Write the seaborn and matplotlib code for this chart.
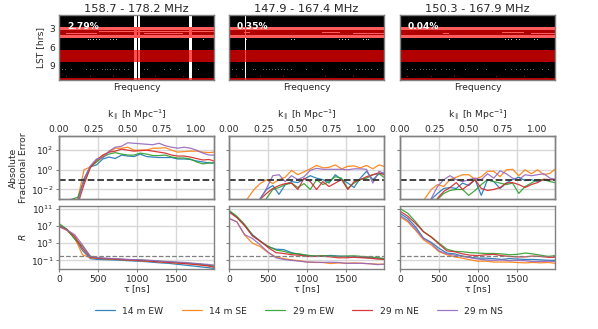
import numpy as np
import pandas as pd
import matplotlib
matplotlib.use("Agg")
import matplotlib.pyplot as plt
from matplotlib.colors import ListedColormap
import seaborn as sns

# values
baselines = ["14 m EW", "14 m SE", "29 m EW", "29 m NE", "29 m NS"]
titles = ["158.7 - 178.2 MHz", "147.9 - 167.4 MHz", "150.3 - 167.9 MHz"]
flag_pct = ["2.79%", "0.35%", "0.04%"]

# waterfall: bands in LST hours, value = colour index
lst_bands = [(0.7, 0.92, 1), (2.6, 3.2, 2), (3.2, 3.95, 1), (3.95, 4.5, 2), (6.4, 8.45, 1), (11.0, 11.4, 1)]
flag_ranges = [[(0.49, 0.505), (0.512, 0.527), (0.842, 0.861)], [(0.108, 0.115)], []]
light_stripes = [
    [(3.45, 0.26, 1.0), (3.7, 0.05, 0.25), (3.75, 0.55, 0.8)],
    [(3.5, 0.6, 0.72), (3.75, 0.8, 1.0), (3.65, 0.1, 0.14)],
    [(3.75, 0.85, 1.0), (3.75, 0.28, 0.32), (3.5, 0.66, 0.8)],
]
white_specks = [
    [(4.8, c) for c in [0.19, 0.2, 0.22, 0.24, 0.26, 0.33, 0.35, 0.37, 0.93]],
    [(4.8, c) for c in [0.11, 0.4, 0.42, 0.71, 0.73, 0.75, 0.77, 0.87, 0.89, 0.9]],
    [(4.8, c) for c in [0.32, 0.68, 0.7, 0.72, 0.75, 0.77, 0.87, 0.89]],
]
grey_specks = [
    [0.02, 0.04, 0.08, 0.18, 0.2, 0.22, 0.25, 0.28, 0.3, 0.31, 0.33, 0.35, 0.37, 0.39, 0.42, 0.45, 0.55, 0.57, 0.68, 0.72, 0.78, 0.9],
    [0.02, 0.05, 0.09, 0.16, 0.17, 0.22, 0.24, 0.26, 0.28, 0.3, 0.32, 0.34, 0.36, 0.38, 0.4, 0.5, 0.6, 0.73, 0.75, 0.78, 0.82, 0.84, 0.86, 0.88, 0.9, 0.92, 0.96],
    [0.05, 0.08, 0.1, 0.13, 0.15, 0.17, 0.19, 0.21, 0.23, 0.27, 0.3, 0.32, 0.35, 0.42, 0.5, 0.56, 0.68, 0.72, 0.75, 0.78, 0.8, 0.82, 0.84, 0.86, 0.92, 0.96],
]
red_specks = [0.05, 0.2, 0.35, 0.62, 0.8]

# log10 of absolute fractional error, below -3 is off the axis
tau_err = [0, 80, 160, 240, 320, 400, 480, 560, 640, 720, 800, 880, 960, 1040, 1120, 1200, 1280, 1360, 1440, 1520, 1600, 1680, 1760, 1840, 1920, 1980]

err1_blue = [-4, -4, -3.5, -3.1, -0.9, 0.3, 0.5, 1.1, 1.3, 1.15, 1.5, 1.4, 1.35, 1.6, 1.35, 1.3, 1.25, 1.25, 1.25, 1.1, 1.1, 1.05, 0.9, 0.8, 0.7, 0.7]
err1_orange = [-4, -4, -4, -3.0, 0.0, 0.3, 0.8, 1.4, 1.8, 2.2, 2.2, 2.3, 2.0, 2.0, 2.0, 2.2, 2.2, 2.25, 2.0, 1.8, 1.85, 1.9, 1.9, 1.8, 1.75, 1.8]
err1_green = [-4, -4, -3.0, -2.8, -1.2, 0.3, 0.8, 1.3, 1.6, 1.75, 1.6, 1.5, 1.5, 1.7, 1.6, 1.45, 1.45, 1.5, 1.3, 1.2, 1.2, 1.1, 0.8, 0.6, 0.7, 0.7]
err1_red = [-4, -4, -4, -3.5, -1.5, 0.2, 1.0, 1.5, 1.8, 1.9, 2.1, 2.0, 1.9, 1.95, 2.0, 1.9, 1.8, 1.7, 1.5, 1.4, 1.4, 1.3, 1.15, 1.0, 1.05, 0.9]
err1_purple = [-4, -4, -4, -3.3, -1.0, 0.4, 1.1, 1.2, 1.9, 2.3, 2.4, 2.75, 2.7, 2.65, 2.6, 2.55, 2.7, 2.45, 2.3, 2.2, 2.3, 2.2, 2.0, 1.7, 1.5, 1.5]

err2_blue = [-4, -4, -4, -4, -4, -2.9, -2.0, -1.6, -2.5, -1.5, -1.2, -1.3, -0.95, -0.6, -0.85, -1.0, -1.35, -0.5, -1.0, -1.35, -1.8, -0.85, -0.15, -1.0, -0.4, -0.35]
err2_orange = [-4, -4, -4, -2.9, -2.0, -1.4, -1.0, -1.4, -1.0, -0.75, -0.05, -0.5, -0.2, 0.1, 0.45, 0.2, 0.25, 0.5, 0.1, 0.35, 0.4, 0.2, 0.45, 0.1, 0.5, 0.35]
err2_green = [-4, -4, -4, -4, -4, -4, -2.9, -2.0, -1.8, -1.5, -1.35, -1.8, -1.4, -2.0, -1.0, -1.5, -1.2, -0.7, -0.85, -1.9, -1.35, -1.0, -0.85, -0.5, -0.4, -0.75]
err2_red = [-4, -4, -4, -4, -4, -3.0, -2.4, -1.9, -1.6, -1.4, -1.35, -2.0, -0.85, -1.2, -2.0, -1.2, -1.7, -1.35, -1.0, -2.0, -1.2, -1.0, -0.7, -0.5, -0.3, -0.5]
err2_purple = [-4, -4, -4, -4, -4, -3.0, -1.9, -0.6, -0.5, -1.2, -0.6, -1.0, -0.7, -0.05, 0.15, 0.05, 0.05, 0.05, 0.05, 0.0, 0.1, 0.1, 0.05, -1.35, -0.15, -0.35]

err3_blue = [-4, -4, -4, -4, -4, -3.0, -2.4, -1.9, -1.8, -1.9, -1.35, -1.6, -1.0, -2.6, -1.0, -1.2, -1.9, -1.35, -1.0, -0.75, -1.1, -1.0, -1.2, -1.0, -1.0, -1.0]
err3_orange = [-4, -4, -4, -4, -2.9, -2.0, -1.5, -1.7, -1.0, -0.75, -0.5, -0.5, -0.95, -0.7, -0.15, -0.15, -0.7, 0.0, 0.05, -0.6, 0.0, -0.4, 0.0, -0.5, -0.35, 0.05]
err3_green = [-4, -4, -4, -4, -4, -4, -3.0, -2.4, -2.1, -2.0, -2.0, -2.6, -2.1, -1.5, -1.0, -1.2, -1.35, -1.5, -1.35, -2.4, -1.7, -1.35, -1.0, -1.0, -1.2, -1.3]
err3_red = [-4, -4, -4, -4, -4, -4, -2.9, -2.2, -1.8, -1.3, -2.0, -1.5, -1.0, -1.9, -2.1, -2.0, -1.8, -1.35, -1.3, -1.5, -1.8, -1.5, -1.3, -0.95, -1.0, -1.0]
err3_purple = [-4, -4, -4, -4, -4, -2.9, -1.7, -1.0, -0.6, -1.0, -1.2, -1.0, -0.85, -1.0, -0.4, -0.85, -0.1, -0.4, -0.85, -1.0, -0.5, -0.6, -0.5, -0.4, -0.85, -0.95]

# log10 of R
tau_r = [0, 100, 200, 300, 400, 500, 600, 700, 800, 900, 1000, 1100, 1200, 1300, 1400, 1500, 1600, 1700, 1800, 1900, 1980]

r1_blue = [7.2, 6.2, 4.1, 1.3, -0.6, -0.8, -0.85, -0.9, -1.0, -1.1, -1.2, -1.3, -1.45, -1.6, -1.7, -1.9, -2.1, -2.3, -2.5, -2.7, -2.9]
r1_orange = [6.9, 6.0, 4.3, 0.3, -0.4, -0.55, -0.65, -0.75, -0.85, -0.95, -1.05, -1.15, -1.25, -1.4, -1.5, -1.6, -1.7, -1.85, -2.0, -2.2, -2.4]
r1_green = [7.6, 6.3, 4.0, 2.3, 0.0, -0.5, -0.6, -0.7, -0.8, -0.85, -0.9, -1.0, -1.1, -1.25, -1.35, -1.5, -1.6, -1.75, -1.9, -2.1, -2.3]
r1_red = [7.1, 6.2, 4.6, 1.8, -0.3, -0.5, -0.6, -0.7, -0.8, -0.9, -1.0, -1.1, -1.25, -1.35, -1.5, -1.6, -1.75, -1.9, -2.1, -2.3, -2.6]
r1_purple = [6.9, 6.1, 5.0, 2.6, -0.1, -0.4, -0.5, -0.6, -0.7, -0.8, -0.85, -0.95, -1.05, -1.2, -1.3, -1.4, -1.5, -1.65, -1.8, -1.95, -2.1]

r2_blue = [10.5, 9.1, 7.2, 5.0, 3.5, 2.2, 1.6, 1.5, 0.8, 0.4, 0.1, 0.0, 0.0, 0.15, 0.0, -0.1, -0.1, -0.3, -0.4, -0.5, -0.6]
r2_orange = [8.8, 8.0, 4.9, 3.0, 2.2, 0.8, -0.2, -0.6, -0.9, -1.1, -1.4, -1.5, -1.5, -1.75, -1.6, -1.7, -1.6, -1.7, -1.8, -1.9, -1.9]
r2_green = [10.7, 9.3, 7.4, 4.8, 3.4, 2.3, 1.4, 1.1, 0.6, 0.5, 0.2, 0.0, 0.1, 0.0, -0.1, 0.0, 0.05, -0.1, -0.2, -0.4, -0.6]
r2_red = [10.3, 9.0, 7.1, 4.7, 3.5, 2.0, 0.8, 0.6, 0.3, 0.2, -0.1, -0.1, -0.05, -0.2, -0.4, -0.4, -0.3, -0.4, -0.5, -0.7, -0.8]
r2_purple = [8.8, 8.0, 5.0, 4.1, 2.6, 0.9, -0.4, -0.8, -1.0, -1.2, -1.4, -1.45, -1.5, -1.45, -1.5, -1.7, -1.7, -1.7, -1.8, -2.0, -1.9]

r3_blue = [10.0, 8.8, 6.8, 4.2, 3.2, 1.8, 0.7, 0.5, 0.0, -0.3, -0.5, -0.5, -0.6, -0.8, -0.6, -0.7, -0.8, -0.8, -0.9, -1.0, -1.0]
r3_orange = [9.2, 8.0, 6.0, 3.8, 2.6, 1.0, 0.3, -0.2, -0.5, -0.9, -1.2, -1.2, -1.4, -1.4, -1.4, -1.5, -1.6, -1.5, -1.6, -1.5, -1.7]
r3_green = [11.1, 10.0, 8.0, 5.7, 4.5, 3.0, 1.6, 1.1, 1.0, 0.8, 0.7, 0.6, 0.6, 0.5, 0.3, 0.4, 0.7, 0.5, 0.2, -0.1, 0.1]
r3_red = [10.5, 9.3, 7.6, 5.7, 4.4, 2.8, 1.2, 1.0, 0.5, 0.2, 0.1, 0.3, 0.4, 0.1, -0.1, -0.2, -0.2, 0.0, -0.1, -0.3, -0.3]
r3_purple = [9.5, 8.3, 6.3, 4.1, 3.0, 1.2, 0.5, 0.2, -0.1, -0.4, -0.7, -0.9, -1.0, -0.9, -1.1, -1.0, -1.1, -1.3, -1.3, -1.2, -1.3]

err_panels = [
    [err1_blue, err1_orange, err1_green, err1_red, err1_purple],
    [err2_blue, err2_orange, err2_green, err2_red, err2_purple],
    [err3_blue, err3_orange, err3_green, err3_red, err3_purple],
]
r_panels = [
    [r1_blue, r1_orange, r1_green, r1_red, r1_purple],
    [r2_blue, r2_orange, r2_green, r2_red, r2_purple],
    [r3_blue, r3_orange, r3_green, r3_red, r3_purple],
]

W, H = 598, 329
LST_MIN, LST_MAX = 0.7, 11.4
N_ROWS, N_CHAN = 65, 155
FS = 6.6

sns.set_style("white")
plt.rcParams.update({"font.family": "DejaVu Sans", "font.size": FS, "axes.edgecolor": "#808080",
                     "axes.linewidth": 1.0, "xtick.bottom": True, "ytick.left": True,
                     "xtick.major.size": 2.5, "ytick.major.size": 2.5,
                     "xtick.color": "#262626", "ytick.color": "#262626", "mathtext.default": "regular"})
palette = sns.color_palette("tab10", 5)
wf_cmap = ListedColormap(["#000000", "#b00000", "#ff5c5c", "#ffffff", "#ff5050", "#666666", "#b8b8b8"])


def px_axes(fig, x0, y0, x1, y1):
    return fig.add_axes([x0 / W, 1 - y1 / H, (x1 - x0) / W, (y1 - y0) / H])


def lst_row(lst):
    return (lst - LST_MIN) / (LST_MAX - LST_MIN) * N_ROWS


def build_waterfall(i):
    m = np.zeros((N_ROWS, N_CHAN))
    for start, end, val in lst_bands:
        m[int(round(lst_row(start))):int(round(lst_row(end))), :] = val
    for lst, c0, c1 in light_stripes[i]:
        m[int(lst_row(lst)), int(c0 * N_CHAN):int(c1 * N_CHAN)] = 2
    for lst, c in white_specks[i]:
        m[int(lst_row(lst)), int(c * N_CHAN)] = 6
    for c in grey_specks[i]:
        m[int(lst_row(9.7)), int(c * N_CHAN)] = 5
    for c in red_specks:
        m[int(lst_row(10.9)), int(c * N_CHAN)] = 1
    for c0, c1 in flag_ranges[i]:
        a, b = int(c0 * N_CHAN), max(int(c1 * N_CHAN), int(c0 * N_CHAN) + 1)
        col = m[:, a:b]
        col[(col == 0) | (col == 5) | (col == 6)] = 3
        col[(col == 1) | (col == 2)] = 4
    return m


def style_panel(ax, yticks, show_labels):
    ax.set_xlim(0, 1983)
    ax.set_yscale("log")
    ax.set_yticks(yticks)
    ax.minorticks_off()
    ax.set_xticks([0, 500, 1000, 1500])
    ax.grid(True, color="#d8d8d8", lw=1.0)
    ax.set_axisbelow(True)
    ax.tick_params(labelsize=FS, pad=1.5, length=2.5, color="#808080")
    if not show_labels:
        ax.set_yticklabels([])
    for s in ax.spines.values():
        s.set_visible(True)


fig = plt.figure(figsize=(W / 100, H / 100), dpi=100)
lefts = [59, 229, 400]

for i, x0 in enumerate(lefts):
    x1 = x0 + 155

    # waterfall
    ax = px_axes(fig, x0, 15, x1, 80)
    sns.heatmap(build_waterfall(i), ax=ax, cmap=wf_cmap, vmin=0, vmax=6, cbar=False,
                xticklabels=False, yticklabels=False)
    for s in ax.spines.values():
        s.set_visible(True)
        s.set_color("#808080")
    ax.set_title(titles[i], fontsize=8.2, pad=2.5)
    ax.set_xlabel("Frequency", fontsize=FS, labelpad=2)
    ax.set_xticks([])
    ax.text(8 / 155, 0.83, flag_pct[i], transform=ax.transAxes, color="white",
            fontsize=6.6, fontweight="bold", va="center")
    if i == 0:
        ax.set_yticks([lst_row(v) for v in [3, 6, 9]])
        ax.set_yticklabels(["3", "6", "9"], rotation=0, fontsize=FS)
        ax.tick_params(axis="y", length=0, pad=3)
        ax.set_ylabel("LST [hrs]", fontsize=FS, labelpad=3)

    # fractional error
    ax = px_axes(fig, x0, 136, x1, 199.3)
    for j, name in enumerate(baselines):
        sns.lineplot(x=tau_err, y=np.power(10.0, err_panels[i][j]), ax=ax, color=palette[j],
                     lw=0.9, alpha=0.9, errorbar=None, label=name, legend=False)
    ax.axhline(0.1, color="#333333", ls="--", lw=1.3)
    ax.set_ylim(1e-3, 10 ** 3.44)
    style_panel(ax, [1e-2, 1e0, 1e2], i == 0)
    ax.set_xticklabels([])
    ax.tick_params(axis="x", length=0)
    if i == 0:
        ax.set_ylabel("Absolute\nFractional Error", fontsize=FS, labelpad=2)
        handles, labels = ax.get_legend_handles_labels()
    top = ax.twiny()
    top.set_xlim(0, 1.13)
    top.set_xticks([0, 0.25, 0.5, 0.75, 1.0])
    top.set_xticklabels(["0.00", "0.25", "0.50", "0.75", "1.00"])
    top.tick_params(labelsize=FS, pad=1.5, length=0)
    top.grid(False)
    top.set_xlabel(r"$k_\parallel$ [$h$ Mpc$^{-1}$]", fontsize=FS, labelpad=5)

    # R
    ax = px_axes(fig, x0, 206, x1, 269)
    for j, name in enumerate(baselines):
        sns.lineplot(x=tau_r, y=np.power(10.0, r_panels[i][j]), ax=ax, color=palette[j],
                     lw=0.9, alpha=0.9, errorbar=None, legend=False)
    ax.axhline(1.0, color="#808080", ls="--", lw=0.9)
    ax.set_ylim(10 ** -3.03, 10 ** 11.7)
    style_panel(ax, [1e-1, 1e3, 1e7, 1e11], i == 0)
    ax.set_xlabel(r"$\tau$ [ns]", fontsize=FS, labelpad=0)
    if i == 0:
        ax.set_ylabel(r"$\mathit{R}$", fontsize=FS, labelpad=2)

fig.legend(handles, labels, ncol=5, loc="center", bbox_to_anchor=(299 / W, 1 - 311 / H), frameon=False,
           fontsize=FS, handlelength=2.2, columnspacing=2.0, handletextpad=0.8)

fig.savefig("out.png", dpi=100)
